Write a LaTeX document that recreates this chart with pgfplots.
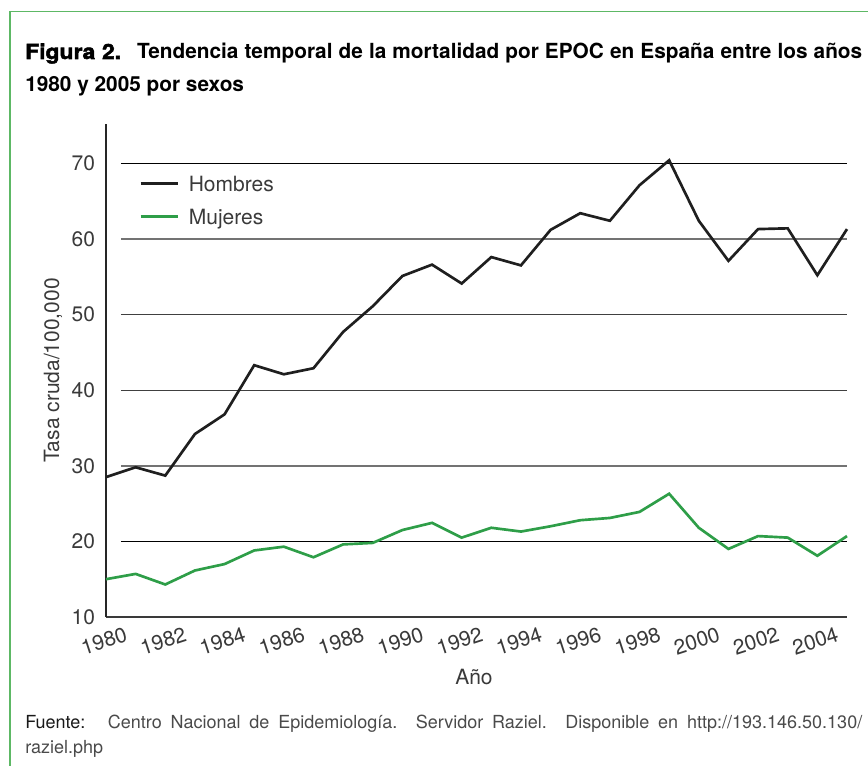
\documentclass[border=0pt]{standalone}
\usepackage{fontspec}
\setmainfont{TeX Gyre Heros}
\newfontface\heavyfont[FakeBold=2.5, FakeStretch=1.1]{texgyreheros-bold.otf}
\usepackage{pgfplots}
\pgfplotsset{compat=1.18}
\definecolor{ink}{HTML}{3A3A3A}
\definecolor{foot}{HTML}{4A4A4A}
\definecolor{mgreen}{HTML}{2E9E48}
\definecolor{bgreen}{HTML}{5DB865}
\newcommand\chartfont{\fontsize{15.75}{18}\selectfont}

\pgfplotstableread{
year val
1980 28.5
1981 29.8
1982 28.7
1983 34.2
1984 36.8
1985 43.3
1986 42.1
1987 42.9
1988 47.7
1989 51.1
1990 55.1
1991 56.6
1992 54.1
1993 57.6
1994 56.5
1995 61.2
1996 63.4
1997 62.4
1998 67.1
1999 70.4
2000 62.4
2001 57.1
2002 61.3
2003 61.4
2004 55.2
2005 61.3
}\hombres

\pgfplotstableread{
year val
1980 15.0
1981 15.7
1982 14.3
1983 16.15
1984 17.0
1985 18.8
1986 19.3
1987 17.9
1988 19.6
1989 19.8
1990 21.5
1991 22.45
1992 20.5
1993 21.8
1994 21.3
1995 22.0
1996 22.8
1997 23.1
1998 23.9
1999 26.3
2000 21.8
2001 19.0
2002 20.7
2003 20.5
2004 18.1
2005 20.7
}\mujeres

\begin{document}
\begin{tikzpicture}
\begin{scope}[x=0.75pt,y=0.75pt]
\useasboundingbox (0,0) rectangle (868,765);
\draw[bgreen, line width=1.0pt] (10,-10) -- (10,753.3) -- (880,753.3);
\node[anchor=base west, inner sep=0pt, font=\fontsize{15.6}{18}\selectfont\bfseries] at (25,706)
  {\makebox[627.75pt][s]{{\heavyfont Figura 2.}\hspace{12pt}Tendencia temporal de la mortalidad por EPOC en España entre los años}};
\node[anchor=base west, inner sep=0pt, font=\fontsize{15.6}{18}\selectfont\bfseries] at (25,673)
  {1980 y 2005 por sexos};
\node[anchor=base west, inner sep=0pt, font=\fontsize{13.5}{15}\selectfont, text=foot] at (25,37)
  {\makebox[627.75pt][s]{{\color{black!90}Fuente:}\hspace{6pt} Centro Nacional de Epidemiología. Servidor Raziel. Disponible en http://193.146.50.130/}};
\node[anchor=base west, inner sep=0pt, font=\fontsize{13.5}{15}\selectfont, text=foot] at (25,12)
  {raziel.php};
\end{scope}

\begin{axis}[
  at={(79.5pt,111pt)}, anchor=south west,
  scale only axis, width=555.75pt, height=369.75pt,
  xmin=1980, xmax=2005, ymin=10, ymax=75.2,
  clip=false,
  axis x line=bottom, axis y line=left,
  axis line style={-},
  x axis line style={line width=1.75pt, draw=ink},
  y axis line style={line width=0.8pt, draw=black!85},
  xtick={1980,1982,...,2004},
  ytick={10,20,...,70},
  major tick length=0pt,
  tick style={draw=none},
  /pgf/number format/assume math mode=true,
  /pgf/number format/1000 sep={},
  scaled ticks=false,
  xticklabel style={font=\chartfont, text=ink, anchor=center, inner sep=0pt, yshift=-18pt, xshift=-1.5pt, rotate=18},
  yticklabel style={font=\chartfont, text=ink, anchor=east, inner sep=0pt, xshift=-8pt},
  xlabel={Año}, ylabel={Tasa cruda/100,000},
  xlabel style={at={(axis description cs:0.4966,-0.1359)}, anchor=base, font=\chartfont, text=ink},
  ylabel style={at={(axis description cs:-0.0715,0.5)}, anchor=center, font=\chartfont, text=ink},
  legend style={draw=none, fill=none, inner sep=0pt, at={(axis cs:1981.11,68.35)}, anchor=north west,
    row sep=13.25pt, column sep=7.5pt,
    nodes={inner sep=0pt, text height=11.5pt, text depth=0pt, anchor=west, font=\chartfont, text=ink}},
  legend cell align=left,
  legend image code/.code={\draw[#1] (0pt,0pt) -- (27.75pt,0pt);},
]
\draw[black, line width=0.75pt] (axis cs:1980.5,70) -- (axis cs:2005,70);
\draw[black!55, line width=1.1pt] (axis cs:1980.5,60) -- (axis cs:2005,60);
\draw[black!75, line width=0.9pt] (axis cs:1980.5,50) -- (axis cs:2005,50);
\draw[black!75, line width=0.9pt] (axis cs:1980.5,40) -- (axis cs:2005,40);
\draw[black!55, line width=1.1pt] (axis cs:1980.5,30) -- (axis cs:2005,30);
\draw[black, line width=0.75pt] (axis cs:1980.5,20) -- (axis cs:2005,20);
\addplot[color=black!88, line width=2pt, line join=miter, mark=none] table[x=year, y=val] {\hombres};
\addlegendentry{Hombres}
\addplot[color=mgreen, line width=2pt, line join=miter, mark=none] table[x=year, y=val] {\mujeres};
\addlegendentry{Mujeres}
\end{axis}
\end{tikzpicture}
\end{document}
